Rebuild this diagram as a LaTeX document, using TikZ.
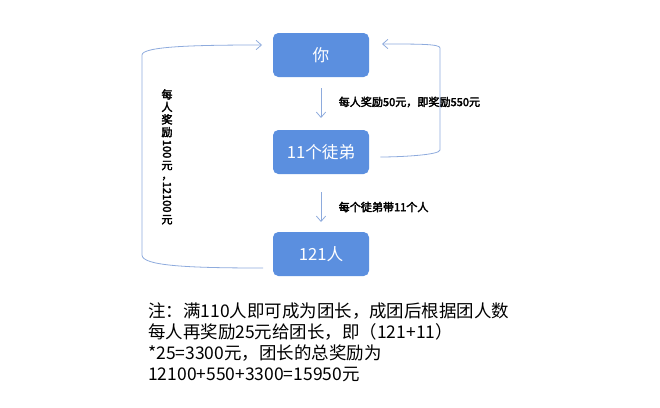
\documentclass[tikz,border=0pt]{standalone}
\usepackage{fontspec}
\setmainfont{Noto Sans CJK SC}
\newfontfamily\cjk[AutoFakeBold=3]{Noto Sans CJK SC}
\usetikzlibrary{arrows.meta,positioning}
\definecolor{boxblue}{HTML}{5B8FDF}
\definecolor{lineblue}{HTML}{8EABDD}
\newcommand{\vdig}[1]{\rotatebox[origin=c]{-90}{#1}}
\begin{document}
\begin{tikzpicture}[
    x=0.75pt, y=-0.75pt,
    box/.style={rounded corners=4pt, fill=boxblue, text=white,
      minimum width=72pt, minimum height=33pt, font=\cjk\fontsize{12.5}{14}\selectfont},
    link/.style={draw=lineblue, line width=0.6pt, -{Straight Barb[length=4pt,width=7pt]}},
    tlabel/.style={font=\cjk\bfseries\fontsize{8.3}{10}\selectfont, anchor=west}
    ]
  \useasboundingbox (0,0) rectangle (660,407);
  \node [box] (you) at (321,55) {你};
  \node [box] (disc) at (321,152) {11个徒弟};
  \node [box] (team) at (321,254) {121人};
  % down arrows
  \draw [link] (321,88) -- (321,118);
  \draw [link] (321,192) -- (321,222);
  \node [tlabel] (l1) at (334,102) {每人奖励50元，即奖励550元};
  \node [tlabel] (l2) at (334,207) {每个徒弟带11个人};
  % feedback arrows
  \coordinate (r1) at (440,150);
  \coordinate (r2) at (440,48);
  \draw [link] (disc.east) ++(11,5) .. controls (400,157) and (440,155) .. (r1)
    -- (r2) .. controls (440,44) and (420,44) .. (382,44);
  \coordinate (q1) at (142,255);
  \coordinate (q2) at (142,55);
  \draw [link] (263,268) .. controls (190,268) and (142,266) .. (q1)
    -- (q2) .. controls (142,46) and (200,45) .. (262,45);
  \node [font=\cjk\bfseries\fontsize{8.3}{9.4}\selectfont, align=center, anchor=north,
    inner sep=0pt] (l3) at (167,89)
    {每\\人\\奖\\励\\[1pt]\vdig{100}\\[1pt]元\\[-2pt]，\\\vdig{12100}\\[1pt]元};
  % note
  \node [anchor=north west, align=left, inner sep=0pt, font=\fontsize{13.1}{15.8}\selectfont] (note) at (148,302)
    {注：满110人即可成为团长，成团后根据团人数\\
     每人再奖励25元给团长，即（121+11）\\
     *25=3300元，团长的总奖励为\\
     12100+550+3300=15950元};
\end{tikzpicture}
\end{document}
